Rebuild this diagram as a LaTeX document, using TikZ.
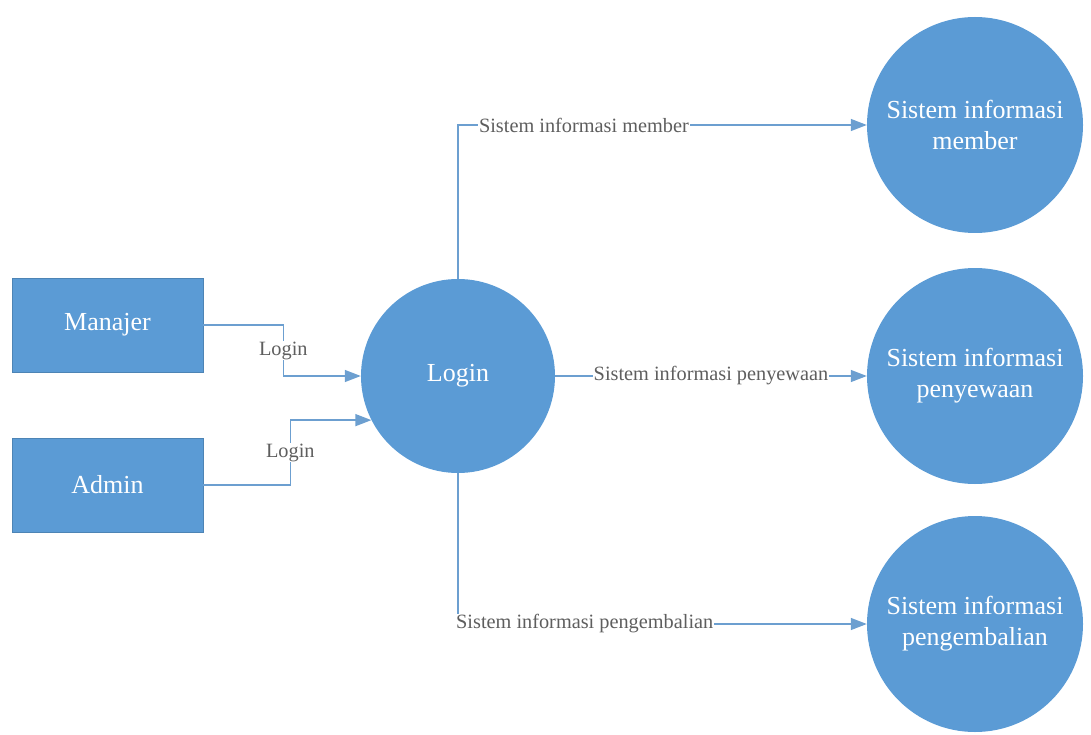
\documentclass[tikz,border=0pt]{standalone}
\usepackage{fontspec}
\setmainfont{Liberation Serif}
\usetikzlibrary{arrows.meta}
\definecolor{fillblue}{HTML}{5B9BD5}
\definecolor{lineblue}{HTML}{6C9FD0}
\definecolor{labelgray}{HTML}{5E5E5E}
\tikzset{
  entity/.style={rectangle, fill=fillblue, draw=fillblue!85!black, line width=0.6pt,
    minimum width=191pt, minimum height=94pt, text=white,
    font=\fontsize{26}{30}\selectfont},
  proc/.style={circle, fill=fillblue, draw=none, text=white, align=center, inner sep=0pt,
    font=\fontsize{26}{31}\selectfont},
  conn/.style={draw=lineblue, line width=1.3pt, -{Triangle[length=16pt,width=12pt]}},
  lbl/.style={fill=white, text=labelgray, inner sep=1pt, font=\fontsize{20.3}{22}\selectfont}
}
\begin{document}
\begin{tikzpicture}[x=1pt,y=-1pt]
\useasboundingbox (0,0) rectangle (1091,735);
\node[entity] (man) at (107.5,325) {Manajer};
\node[entity] (adm) at (107.5,485) {Admin};
\node[proc, minimum size=194pt] (login) at (458,376) {Login};
\node[proc, minimum size=216pt] (mem) at (975,125) {Sistem informasi\\member};
\node[proc, minimum size=216pt] (pen) at (975,376) {Sistem informasi\\penyewaan};
\node[proc, minimum size=216pt] (peng) at (975,624) {Sistem informasi\\pengembalian};

\draw[conn] (man.east) -- ++(80,0) |- node[lbl, pos=0.25] {Login} (login.west);
\draw[conn] (adm.east) -- ++(87,0) |- node[lbl, pos=0.25] {Login} (login.207);
\draw[conn] (login.north) |- node[lbl, pos=0.654] {Sistem informasi member} (mem.west);
\draw[conn] (login.east) -- node[lbl, midway] {Sistem informasi penyewaan} (pen.west);
\draw[conn] (login.south) |- node[lbl, pos=0.655] {Sistem informasi pengembalian} (peng.west);
\end{tikzpicture}
\end{document}
